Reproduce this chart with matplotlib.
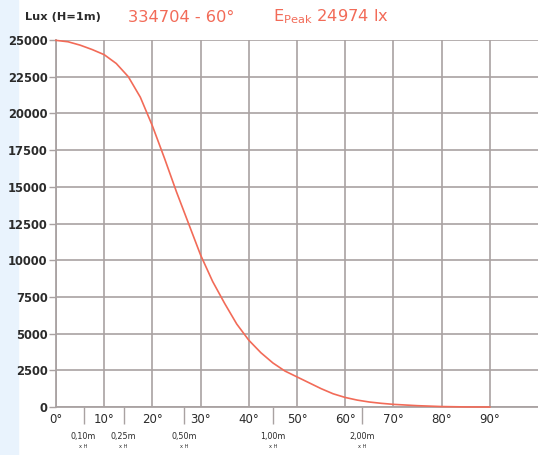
import numpy as np
import matplotlib.pyplot as plt

# lux curve (angle in degrees, lux at H=1m)
angles = [0, 2.5, 5, 7.5, 10, 12.5, 15, 17.5, 20, 22.5, 25, 27.5, 30, 32.5, 35, 37.5,
          40, 42.5, 45, 47.5, 50, 52.5, 55, 57.5, 60, 62.5, 65, 67.5, 70, 75, 80, 85, 90]
lux = [24974, 24880, 24650, 24350, 24000, 23400, 22500, 21100, 19150, 16950, 14650, 12500,
       10350, 8550, 7050, 5650, 4550, 3700, 3000, 2450, 2050, 1650, 1250, 900, 650, 470,
       340, 250, 180, 90, 30, 5, 0]

y_ticks = [0, 2500, 5000, 7500, 10000, 12500, 15000, 17500, 20000, 22500, 25000]
x_ticks = [0, 10, 20, 30, 40, 50, 60, 70, 80, 90]
dist_values = [0.10, 0.25, 0.50, 1.00, 2.00]
dist_labels = ['0,10m', '0,25m', '0,50m', '1,00m', '2,00m']

red = '#f26b58'
grid_col = '#a9a2a2'
txt = '#2b2b2b'

fig = plt.figure(figsize=(5.38, 4.55), dpi=100)
fig.patch.set_facecolor('white')
# light blue strip on the left
strip = plt.Rectangle((0, 0), 18 / 538, 1, transform=fig.transFigure,
                      color='#e9f3fd', zorder=-5)
fig.patches.append(strip)

ax = fig.add_axes([56 / 538, 1 - 407 / 455, 1 - 56 / 538, (407 - 40) / 455])
ax.set_facecolor('none')
ax.set_xlim(0, 100)
ax.set_ylim(0, 25000)

ax.plot(angles, lux, color=red, lw=1.2, zorder=3, clip_on=False)

ax.set_yticks(y_ticks)
ax.set_yticklabels([str(v) for v in y_ticks], fontsize=8.3, color=txt,
                   fontweight='bold', family='DejaVu Sans')
ax.set_xticks(x_ticks)
ax.set_xticklabels([f'{v}°' for v in x_ticks], fontsize=8.5, color=txt,
                   family='DejaVu Sans')
ax.tick_params(axis='y', length=5, width=1, color=grid_col, pad=1)
ax.tick_params(axis='x', length=0, pad=4)
ax.grid(True, color=grid_col, lw=1.2)
for s in ['top', 'right']:
    ax.spines[s].set_visible(False)
for s in ['left', 'bottom']:
    ax.spines[s].set_color(grid_col)
    ax.spines[s].set_linewidth(1.3)

# distance marks below the axis (angle = atan(d / H))
dist_angles = np.degrees(np.arctan(dist_values))
ax.set_xticks(dist_angles, minor=True)
ax.tick_params(axis='x', which='minor', length=12, width=1, color=grid_col, direction='out')
for a, lab in zip(dist_angles, dist_labels):
    ax.annotate(lab, (a, 0), xycoords='data', xytext=(0, -21.5), textcoords='offset points',
                ha='center', va='center', fontsize=5.8, color=txt, annotation_clip=False)
    ax.annotate('x H', (a, 0), xycoords='data', xytext=(0, -28.5), textcoords='offset points',
                ha='center', va='center', fontsize=3.6, color=txt, annotation_clip=False)

fig.text(25 / 538, 1 - 17 / 455, 'Lux (H=1m)', fontsize=8.2, fontweight='bold', color=txt,
         va='center', ha='left')
fig.text(128 / 538, 1 - 17 / 455, '334704 - 60°', fontsize=11.7, color=red, va='center', ha='left')
fig.text(273 / 538, 1 - 17 / 455, r'E$_{\mathregular{Peak}}$ 24974 lx', fontsize=11.7, color=red,
         va='center', ha='left')

fig.savefig('out.png', dpi=100)
